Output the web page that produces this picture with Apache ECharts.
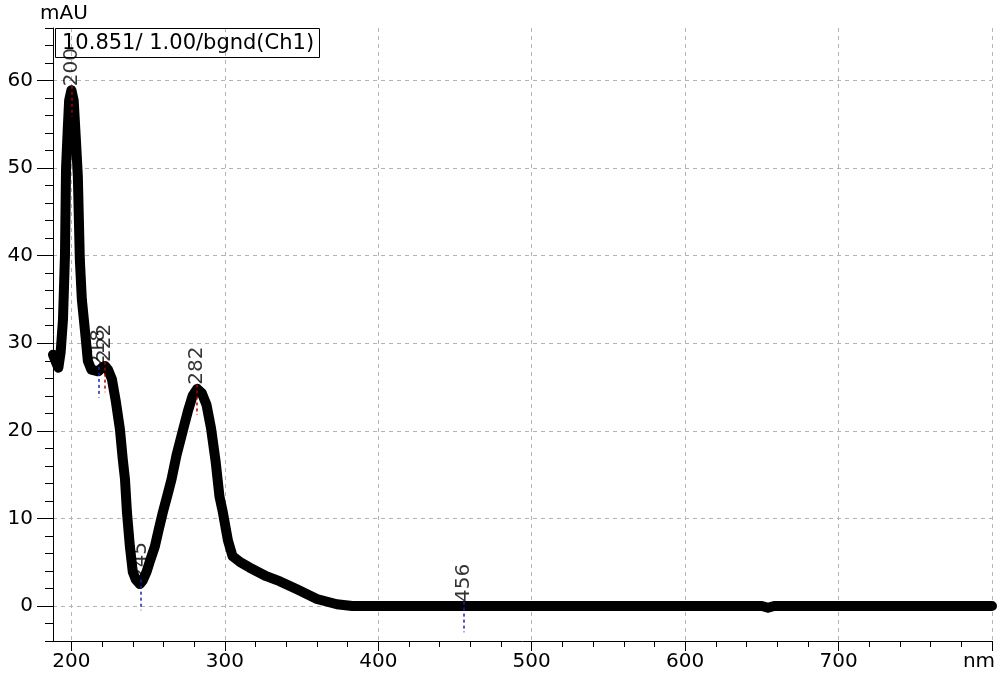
<!DOCTYPE html>
<html>
<head>
<meta charset="utf-8">
<script src="https://cdn.jsdelivr.net/npm/echarts@6/dist/echarts.min.js"></script>
<style>
  html, body { margin: 0; padding: 0; background: #fff; }
  #chart { width: 1003px; height: 679px; }
</style>
</head>
<body>
<div id="chart"></div>
<script>
// spectrum (nm / mAU)
var wavelength = [188, 190, 191.5, 193, 194.5, 195.8, 196.5, 197.5, 198.5, 200, 201.5, 203, 204.2, 205.5, 206.8,
  208.8, 210.7, 213, 217.5, 220.5, 222, 223.8, 226.4, 229, 231.6, 233.5, 234.9, 236.2, 238.1, 240, 242, 244.6,
  246.5, 249, 251.5, 254.4, 257, 259.6, 262.5, 265.3, 268.5, 272.6, 276, 279, 282, 285, 288, 291, 294, 296.5,
  298.7, 302, 305, 310, 316, 327, 336, 347, 360, 373, 383, 400, 450, 500, 550, 600, 650, 654, 658, 700, 750, 800];
var absorbance = [28.7, 27.8, 27.2, 29, 32.7, 40, 50, 54, 57.7, 58.9, 57.7, 53, 49, 39.5, 35,
  31.5, 28, 27, 26.8, 27.3, 27.4, 27, 25.9, 23.3, 20.2, 16.7, 14.5, 10.7, 6.8, 3.9, 3.0, 2.5,
  2.9, 3.9, 5.3, 6.8, 8.8, 10.7, 12.6, 14.5, 17.2, 20, 22.3, 24, 24.8, 24.3, 23, 20.3, 16.5, 12.5,
  10.7, 7.5, 5.7, 5.0, 4.4, 3.4, 2.8, 1.9, 0.8, 0.2, 0, 0, 0, 0, 0, 0, 0, -0.2, 0, 0, 0, 0];

// peak / valley marks
var peakNm = [200, 218, 222, 245, 282, 456];
var peakVal = [58.9, 26.8, 27.4, 2.5, 24.8, 0];
var peakKind = ['max', 'min', 'max', 'min', 'max', 'min'];

// ticks
var xMajor = [200, 300, 400, 500, 600, 700, 800];
var xMinor = [220, 240, 260, 280, 320, 340, 360, 380, 420, 440, 460, 480, 520, 540, 560, 580,
  620, 640, 660, 680, 720, 740, 760, 780];
var yMajor = [0, 10, 20, 30, 40, 50, 60];
var yMinor = [-4, -2, 2, 4, 6, 8, 12, 14, 16, 18, 22, 24, 26, 28, 32, 34, 36, 38, 42, 44, 46, 48,
  52, 54, 56, 58, 62, 64, 66];

var FONT = 'DejaVu Sans';

var curve = wavelength.map(function (w, i) { return [w, absorbance[i]]; });
var peaks = peakNm.map(function (w, i) { return [w, peakVal[i], peakKind[i]]; });
var markers = peaks.map(function (p) {
  return [
    { coord: [p[0], p[1] + 0.5], lineStyle: { color: p[2] === 'max' ? '#b00000' : '#2020b0' } },
    { coord: [p[0], p[1] - 3] }
  ];
});

var chart = echarts.init(document.getElementById('chart'));

var option = {
  animation: false,
  backgroundColor: '#fff',
  title: {
    text: '10.851/ 1.00/bgnd(Ch1)',
    left: 55,
    top: 28,
    padding: [5, 6, 4, 7],
    borderColor: '#000',
    borderWidth: 1,
    textStyle: { fontFamily: FONT, fontSize: 21, fontWeight: 'normal', color: '#000' }
  },
  grid: { left: 53, right: 11, top: 28, bottom: 38, outerBoundsMode: 'none', containLabel: false },
  xAxis: [
    {
      type: 'value', min: 188, max: 800, position: 'bottom',
      axisLine: { show: true, onZero: false, lineStyle: { color: '#000', width: 1 } },
      axisTick: { show: true, customValues: xMajor, length: 10, lineStyle: { color: '#000' } },
      axisLabel: {
        customValues: xMajor, margin: 11, color: '#000', fontFamily: FONT, fontSize: 20,
        formatter: function (v) { return v === 800 ? '{nm|nm}' : String(v); },
        rich: { nm: { fontFamily: FONT, fontSize: 20, color: '#000', padding: [0, 26, 0, 0] } }
      },
      splitLine: { show: true, lineStyle: { color: '#b4b4b4', type: [4, 4], width: 1 } }
    },
    {
      type: 'value', min: 188, max: 800, position: 'top', offset: -613,
      axisLine: { show: false },
      axisTick: { show: true, inside: true, customValues: xMinor, length: 6, lineStyle: { color: '#000' } },
      axisLabel: { show: false },
      splitLine: { show: false }
    }
  ],
  yAxis: [
    {
      type: 'value', min: -4, max: 66, position: 'left',
      name: 'mAU', nameLocation: 'end', nameGap: 4,
      nameTextStyle: { fontFamily: FONT, fontSize: 20, color: '#000', padding: [0, 0, 0, 22] },
      axisLine: { show: true, onZero: false, lineStyle: { color: '#000', width: 1 } },
      axisTick: { show: true, customValues: yMajor, length: 16, lineStyle: { color: '#000' } },
      axisLabel: { customValues: yMajor, margin: 20, color: '#000', fontFamily: FONT, fontSize: 20 },
      splitLine: { show: true, lineStyle: { color: '#b4b4b4', type: [4, 4], width: 1 } }
    },
    {
      type: 'value', min: -4, max: 66, position: 'right', offset: -939,
      axisLine: { show: false },
      axisTick: { show: true, inside: true, customValues: yMinor, length: 8, lineStyle: { color: '#000' } },
      axisLabel: { show: false },
      splitLine: { show: false }
    }
  ],
  series: [
    {
      type: 'line',
      data: curve,
      showSymbol: false,
      symbol: 'none',
      z: 2,
      lineStyle: { color: '#000', width: 10, cap: 'round', join: 'round' }
    },
    {
      type: 'scatter',
      data: peaks,
      symbolSize: 0,
      z: 3,
      label: {
        show: true,
        position: 'top',
        distance: 4,
        rotate: 90,
        align: 'left',
        verticalAlign: 'middle',
        fontFamily: FONT,
        fontSize: 20,
        color: '#000',
        textBorderWidth: 0,
        formatter: function (p) { return String(p.data[0]); }
      },
      markLine: {
        silent: true,
        symbol: 'none',
        label: { show: false },
        lineStyle: { type: [3, 3], width: 1.5 },
        data: markers
      }
    }
  ]
};

chart.setOption(option);
</script>
</body>
</html>
